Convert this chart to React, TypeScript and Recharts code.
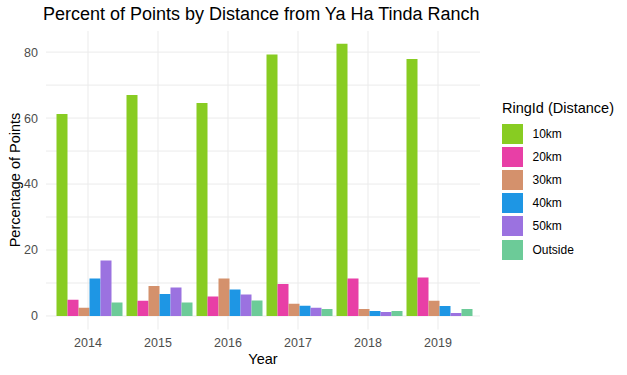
import React from "react";
import { Bar, BarChart, CartesianGrid, XAxis, YAxis } from "recharts";

const YEARS = ["2014", "2015", "2016", "2017", "2018", "2019"];
const RING_10KM = [61.2, 67.0, 64.6, 79.3, 82.5, 77.9];
const RING_20KM = [4.9, 4.6, 5.9, 9.7, 11.4, 11.7];
const RING_30KM = [2.5, 9.1, 11.4, 3.7, 2.1, 4.6];
const RING_40KM = [11.4, 6.7, 8.0, 3.1, 1.5, 3.0];
const RING_50KM = [16.8, 8.6, 6.5, 2.5, 1.2, 0.9];
const OUTSIDE = [4.1, 4.1, 4.7, 2.1, 1.5, 2.1];

const Y_TICKS = [0, 10, 20, 30, 40, 50, 60, 70, 80];

const SERIES = [
  { key: "10km", values: RING_10KM, color: "#88CC22" },
  { key: "20km", values: RING_20KM, color: "#E83FA6" },
  { key: "30km", values: RING_30KM, color: "#D4916C" },
  { key: "40km", values: RING_40KM, color: "#1E96E4" },
  { key: "50km", values: RING_50KM, color: "#9B72E0" },
  { key: "Outside", values: OUTSIDE, color: "#6CCB98" },
];

const data = YEARS.map((year, i) => {
  const row: Record<string, string | number> = { year };
  SERIES.forEach((s) => (row[s.key] = s.values[i]));
  return row;
});

const FONT = "'Liberation Sans', Arial, sans-serif";

export default function App() {
  return (
    <div style={{ position: "absolute", left: 0, top: 0, width: 627, height: 375, background: "#fff", fontFamily: FONT }}>
      <div
        style={{
          position: "absolute",
          left: 43,
          top: 4,
          fontSize: 18,
          color: "#000",
          whiteSpace: "nowrap",
        }}
      >
        Percent of Points by Distance from Ya Ha Tinda Ranch
      </div>

      <BarChart
        width={627}
        height={375}
        data={data}
        margin={{ top: 31, right: 147, bottom: 0, left: 0 }}
        barCategoryGap="5%"
        barGap={0}
      >
        <CartesianGrid stroke="#ebebeb" strokeWidth={1} horizontalValues={Y_TICKS} verticalValues={YEARS} />
        <XAxis
          dataKey="year"
          height={45.5}
          padding={{ left: 7, right: 7 }}
          axisLine={false}
          tickLine={false}
          tickSize={4}
          tickMargin={5}
          tick={{ fontSize: 12.5, fill: "#4d4d4d", fontFamily: FONT }}
          label={{
            content: () => (
              <text x={263} y={364} textAnchor="middle" fontSize={14.5} fill="#000" fontFamily={FONT}>
                Year
              </text>
            ),
          }}
        />
        <YAxis
          width={46}
          domain={[-4.1, 86.4]}
          ticks={Y_TICKS}
          allowDataOverflow
          axisLine={false}
          tickLine={false}
          tickSize={4}
          tickMargin={4}
          tickFormatter={(v: number) => (v % 20 === 0 ? String(v) : "")}
          tick={{ fontSize: 12.5, fill: "#4d4d4d", fontFamily: FONT }}
          label={{
            content: () => (
              <text
                x={20}
                y={180}
                textAnchor="middle"
                fontSize={14.5}
                fill="#000"
                fontFamily={FONT}
                transform="rotate(-90 20 180)"
              >
                Percentage of Points
              </text>
            ),
          }}
        />
        {SERIES.map((s) => (
          <Bar key={s.key} dataKey={s.key} fill={s.color} isAnimationActive={false} />
        ))}
      </BarChart>

      <div style={{ position: "absolute", left: 502, top: 100, fontSize: 14.5, color: "#000", whiteSpace: "nowrap" }}>
        RingId (Distance)
      </div>
      {SERIES.map((s, i) => (
        <div
          key={s.key}
          style={{ position: "absolute", left: 502, top: 124 + i * 23.1, height: 20, display: "flex", alignItems: "center" }}
        >
          <div style={{ width: 20.5, height: 20, background: s.color }} />
          <span style={{ marginLeft: 10, fontSize: 12, color: "#000" }}>{s.key}</span>
        </div>
      ))}
    </div>
  );
}
